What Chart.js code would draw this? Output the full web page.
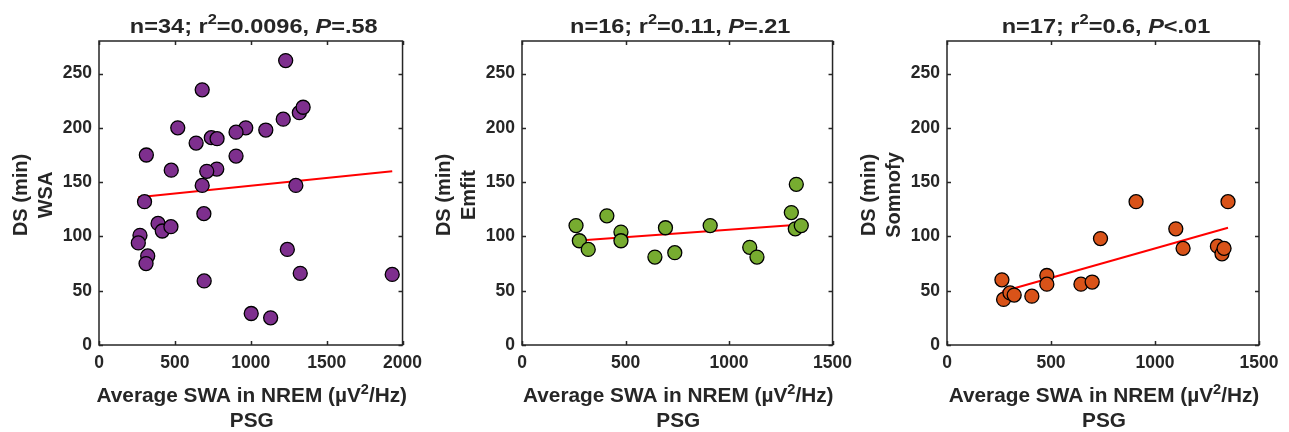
<!DOCTYPE html>
<html>
<head>
<meta charset="utf-8">
<script src="https://cdn.jsdelivr.net/npm/chart.js@4"></script>
<style>
  body { margin: 0; background: #fff; width: 1289px; height: 432px; overflow: hidden; position: relative; }
  canvas { position: absolute; top: 0; }
</style>
</head>
<body>
<canvas id="wsaChart" width="430" height="432" style="left:0px"></canvas>
<canvas id="emfitChart" width="430" height="432" style="left:430px"></canvas>
<canvas id="somnofyChart" width="429" height="432" style="left:860px"></canvas>
<script>
// Dados: SWA médio PSG (x) vs DS em minutos (y)
const wsaX = [1230, 680, 1320, 1345, 1214, 519, 967, 903, 1099, 740, 778, 640, 312, 903, 476, 776, 710,
              680, 1297, 300, 691, 389, 417, 474, 270, 259, 321, 310, 1241, 1326, 1932, 693, 1003, 1131];
const wsaY = [262, 235, 214, 219, 208, 200, 200, 196, 198, 191, 190, 186, 175, 174, 161, 162, 160,
              147, 147, 132, 121, 112, 105, 109, 101, 94, 82, 75, 88, 66, 65, 59, 29, 25];
const wsaFitX = [259, 1932];
const wsaFitY = [136, 160];

const emfitX = [261, 277, 320, 410, 478, 478, 642, 693, 738, 909, 1100, 1135, 1301, 1325, 1320, 1349];
const emfitY = [110, 96, 88, 119, 104, 96, 81, 108, 85, 110, 90, 81, 122, 148, 107, 110];
const emfitFitX = [261, 1349];
const emfitFitY = [96, 111];

const somnofyX = [264, 272, 303, 323, 408, 480, 480, 644, 698, 738, 909, 1100, 1135, 1300, 1322, 1332, 1351];
const somnofyY = [60, 42, 48, 46, 45, 64, 56, 56, 58, 98, 132, 107, 89, 91, 84, 89, 132];
const somnofyFitX = [264, 1351];
const somnofyFitY = [49, 108];

const yTicks = [0, 50, 100, 150, 200, 250];

const TXT = '#262626';
const FONT = '"Liberation Sans", Arial, sans-serif';

// desenha texto com partes sobrescritas / itálico, centrado em cx
function drawRich(ctx, segs, cx, base, size, sx) {
  const fontOf = s => (s.it ? 'italic ' : '') + 'bold ' + (s.sup ? size * 0.7 : size) + 'px ' + FONT;
  let total = 0;
  segs.forEach(s => { ctx.font = fontOf(s); s.w = ctx.measureText(s.t).width; total += s.w; });
  ctx.save();
  ctx.translate(cx, base);
  ctx.scale(sx, 1);
  let x = -total / 2;
  ctx.textAlign = 'left';
  ctx.textBaseline = 'alphabetic';
  segs.forEach(s => {
    ctx.font = fontOf(s);
    ctx.fillText(s.t, x, s.sup ? -size * 0.42 : 0);
    x += s.w;
  });
  ctx.restore();
}

// moldura tipo MATLAB com ticks para dentro + títulos
const framePlugin = {
  id: 'frame',
  afterDraw(chart, args, opts) {
    const { ctx, chartArea: a, scales: { x, y } } = chart;
    ctx.save();
    ctx.strokeStyle = TXT;
    ctx.lineWidth = 1.5;
    ctx.strokeRect(a.left, a.top, a.right - a.left, a.bottom - a.top);
    ctx.beginPath();
    x.ticks.forEach(t => {
      const px = Math.round(x.getPixelForValue(t.value)) + 0.5;
      ctx.moveTo(px, a.bottom); ctx.lineTo(px, a.bottom - 4);
      ctx.moveTo(px, a.top); ctx.lineTo(px, a.top + 4);
    });
    y.ticks.forEach(t => {
      const py = Math.round(y.getPixelForValue(t.value)) + 0.5;
      ctx.moveTo(a.left, py); ctx.lineTo(a.left + 4, py);
      ctx.moveTo(a.right, py); ctx.lineTo(a.right - 4, py);
    });
    ctx.stroke();

    ctx.fillStyle = TXT;
    const cx = (a.left + a.right) / 2;
    drawRich(ctx, opts.title, cx + 3, 33, 21, 1.12);
    drawRich(ctx, [{ t: 'Average SWA in NREM (µV' }, { t: '2', sup: true }, { t: '/Hz)' }], cx + 1, 402, 20, 1.04);
    drawRich(ctx, [{ t: 'PSG' }], cx + 1, 427, 20, 1.04);

    // rótulo do eixo y, rodado
    ctx.save();
    ctx.translate(a.left - 72, (a.top + a.bottom) / 2 + 2);
    ctx.rotate(-Math.PI / 2);
    drawRich(ctx, [{ t: 'DS (min)' }], 0, 0, 20, 1);
    ctx.restore();
    ctx.save();
    ctx.translate(a.left - 47, (a.top + a.bottom) / 2 + 2);
    ctx.rotate(-Math.PI / 2);
    drawRich(ctx, [{ t: opts.device }], 0, 0, 20, 1);
    ctx.restore();
    ctx.restore();
  }
};

function makeChart(id, xs, ys, fx, fy, color, xMax, leftW, padRight, title, device) {
  const tickFont = { family: FONT, size: 17.5, weight: 'bold' };
  return new Chart(document.getElementById(id), {
    type: 'scatter',
    data: {
      datasets: [
        {
          data: xs.map((v, i) => ({ x: v, y: ys[i] })),
          backgroundColor: color,
          borderColor: '#000000',
          borderWidth: 1.3,
          pointRadius: 7,
          pointHoverRadius: 7
        },
        {
          type: 'line',
          data: fx.map((v, i) => ({ x: v, y: fy[i] })),
          borderColor: '#ff0000',
          borderWidth: 2,
          pointRadius: 0,
          fill: false
        }
      ]
    },
    options: {
      responsive: false,
      animation: false,
      events: [],
      layout: { padding: { left: 0, right: padRight, top: 41, bottom: 0 } },
      plugins: {
        legend: { display: false },
        tooltip: { enabled: false },
        frame: { title: title, device: device }
      },
      scales: {
        x: {
          type: 'linear', min: 0, max: xMax,
          ticks: { stepSize: 500, color: TXT, font: tickFont, padding: 8, maxRotation: 0, callback: v => String(v) },
          grid: { display: false, drawTicks: false },
          border: { display: false },
          afterFit: s => { s.height = 87; }
        },
        y: {
          min: 0, max: 280,
          afterBuildTicks: s => { s.ticks = yTicks.map(v => ({ value: v })); },
          ticks: { color: TXT, font: tickFont, padding: 7, callback: v => String(v) },
          grid: { display: false, drawTicks: false },
          border: { display: false },
          afterFit: s => { s.width = leftW; }
        }
      }
    },
    plugins: [framePlugin]
  });
}

makeChart('wsaChart', wsaX, wsaY, wsaFitX, wsaFitY, '#7E2F8E', 2000, 99, 17,
  [{ t: 'n=34; r' }, { t: '2', sup: true }, { t: '=0.0096, ' }, { t: 'P', it: true }, { t: '=.58' }], 'WSA');
makeChart('emfitChart', emfitX, emfitY, emfitFitX, emfitFitY, '#77AC30', 1500, 92, 24,
  [{ t: 'n=16; r' }, { t: '2', sup: true }, { t: '=0.11, ' }, { t: 'P', it: true }, { t: '=.21' }], 'Emfit');
makeChart('somnofyChart', somnofyX, somnofyY, somnofyFitX, somnofyFitY, '#D95319', 1500, 87, 30,
  [{ t: 'n=17; r' }, { t: '2', sup: true }, { t: '=0.6, ' }, { t: 'P', it: true }, { t: '<.01' }], 'Somnofy');
</script>
</body>
</html>
